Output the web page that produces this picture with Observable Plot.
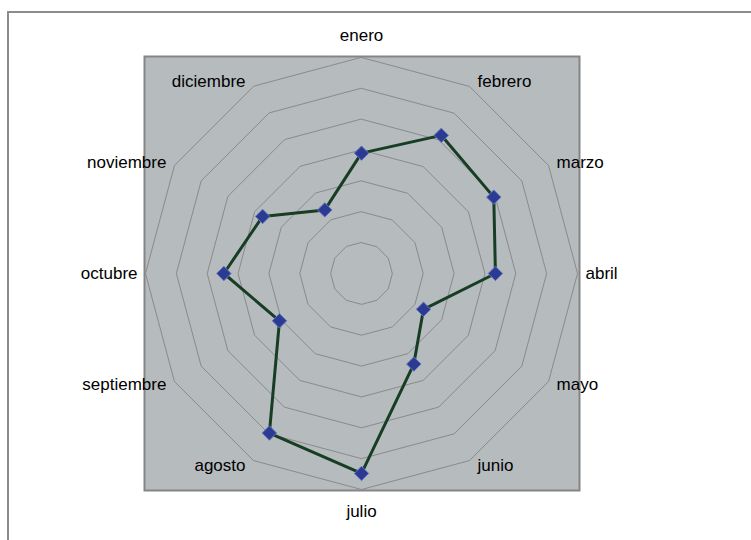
<!DOCTYPE html>
<html>
<head>
<meta charset="utf-8">
<script src="https://cdn.jsdelivr.net/npm/d3@7"></script>
<script src="https://cdn.jsdelivr.net/npm/@observablehq/plot@0.6"></script>
<style>
  html, body { margin: 0; padding: 0; background: #fff; overflow: hidden; width: 751px; height: 540px; }
  #outer { position: absolute; left: 7px; top: 11px; width: 800px; height: 600px; border: 2px solid #8c8c8c; }
  #chart { position: absolute; left: 0; top: 0; }
  #chart svg { font-family: "Liberation Sans", Arial, sans-serif; }
</style>
</head>
<body>
<div id="outer"></div>
<div id="chart"></div>
<script>
// ---- data ----
const months = ["enero", "febrero", "marzo", "abril", "mayo", "junio",
                "julio", "agosto", "septiembre", "octubre", "noviembre", "diciembre"];
const values = [3.9, 5.17, 4.95, 4.34, 2.32, 3.39, 6.48, 5.97, 3.07, 4.46, 3.7, 2.38];
const ringLevels = [1, 2, 3, 4, 5, 6, 7];

// ---- layout ----
const W = 751, H = 540;
const plotLeft = 144, plotRight = 579, plotTop = 56, plotBottom = 490;
const cx = 361, cy = 273;
const rMax = ringLevels[ringLevels.length - 1];
const u = 216 / rMax; // px per unit

const n = months.length;
const angle = i => (i / n) * 2 * Math.PI;

const points = months.map((m, i) => ({
  month: m,
  value: values[i],
  x: values[i] * Math.sin(angle(i)),
  y: values[i] * Math.cos(angle(i))
}));

const rings = ringLevels.flatMap(r =>
  months.map((m, i) => ({ r, x: r * Math.sin(angle(i)), y: r * Math.cos(angle(i)) }))
);

const labels = months.map((m, i) => {
  const a = angle(i), s = Math.sin(a), c = Math.cos(a);
  const vx = rMax * s, vy = rMax * c;
  let anchor, x, y;
  if (Math.abs(s) < 1e-6) {
    anchor = "middle";
    x = vx;
    y = vy + Math.sign(c) * 22 / u;
  } else {
    anchor = s > 0 ? "start" : "end";
    x = vx + Math.sign(s) * 8 / u;
    y = vy + 6 * c / u;
  }
  return { month: m, x, y, anchor };
});

const chart = Plot.plot({
  width: W,
  height: H,
  marginLeft: plotLeft,
  marginRight: W - plotRight,
  marginTop: plotTop,
  marginBottom: H - plotBottom,
  x: { domain: [-(cx - plotLeft) / u, (plotRight - cx) / u], axis: null },
  y: { domain: [-(plotBottom - cy) / u, (cy - plotTop) / u], axis: null },
  style: { fontFamily: '"Liberation Sans", Arial, sans-serif', fontSize: "17px", background: "transparent" },
  marks: [
    Plot.frame({ fill: "#b6bbbe", stroke: "#858585", strokeWidth: 2 }),
    Plot.line(rings, { x: "x", y: "y", z: "r", curve: "linear-closed", stroke: "#8a8a8a", strokeWidth: 1 }),
    Plot.line(points, { x: "x", y: "y", curve: "linear-closed", stroke: "#173d24", strokeWidth: 3 }),
    Plot.dot(points, { x: "x", y: "y", symbol: "diamond2", r: 6.5, fill: "#2c3b92", stroke: "#6474c4", strokeWidth: 1 }),
    Plot.text(labels.filter(d => d.anchor === "middle"), { x: "x", y: "y", text: "month", textAnchor: "middle", fill: "#000", fontSize: 17 }),
    Plot.text(labels.filter(d => d.anchor === "start"), { x: "x", y: "y", text: "month", textAnchor: "start", fill: "#000", fontSize: 17 }),
    Plot.text(labels.filter(d => d.anchor === "end"), { x: "x", y: "y", text: "month", textAnchor: "end", fill: "#000", fontSize: 17 })
  ]
});
document.getElementById("chart").appendChild(chart);
</script>
</body>
</html>
